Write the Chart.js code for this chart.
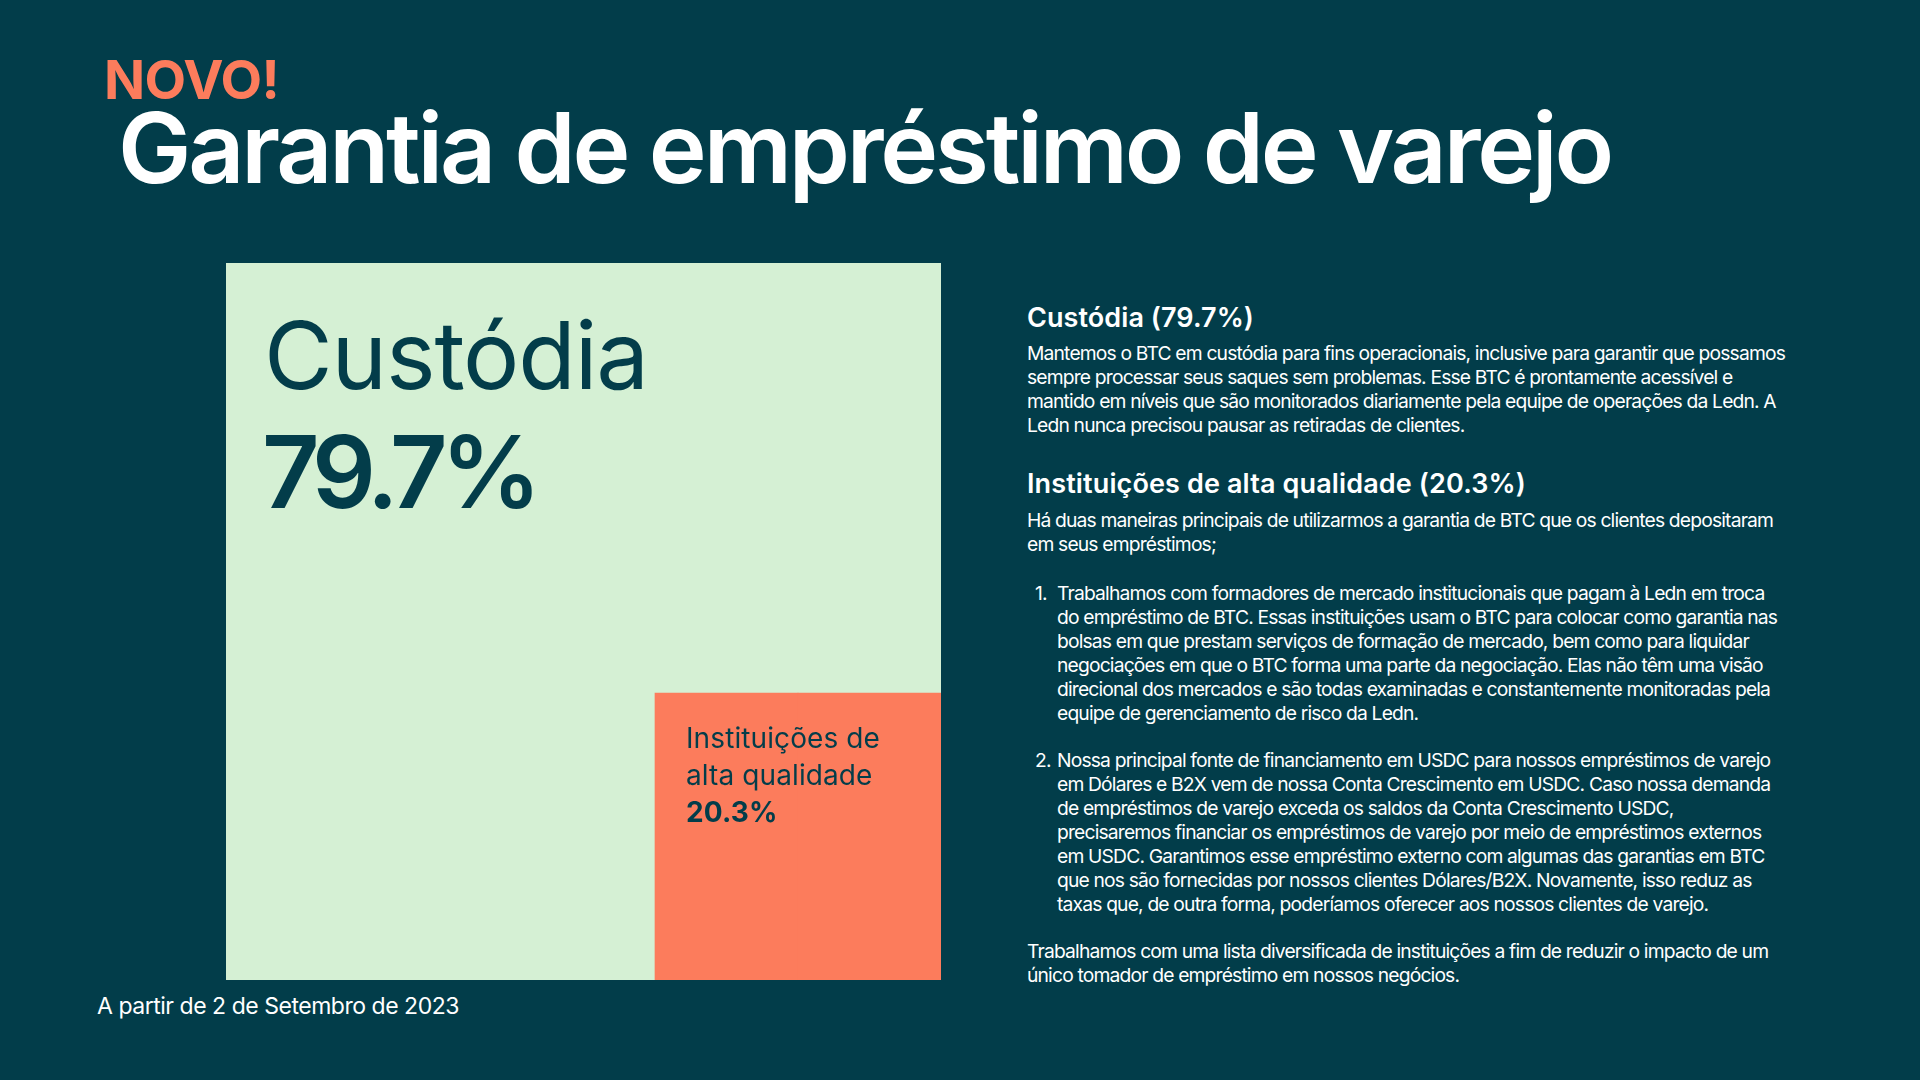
<!DOCTYPE html>
<html lang="pt">
<head>
<meta charset="utf-8">
<script src="https://cdn.jsdelivr.net/npm/chart.js@4.4.0/dist/chart.umd.min.js"></script>
<style>
  html, body { margin: 0; padding: 0; }
  body { width: 1920px; height: 1080px; background: #023d4a; position: relative; overflow: hidden;
         font-family: Inter, "Noto Sans", sans-serif; color: #ffffff; }
  .abs { position: absolute; white-space: nowrap; }
  #novo { left: 104px; top: 53px; font-size: 54px; line-height: 54px; font-weight: 700; color: #fc7c5c; }
  #title { left: 118px; top: 99px; font-size: 98px; line-height: 98px; font-weight: 600; color: #ffffff; }
  #foot { left: 97px; top: 995px; font-size: 23px; line-height: 23px; font-weight: 400; }
  .h { font-size: 27px; line-height: 27px; font-weight: 600; left: 1027px; }
  .p { font-size: 19.3px; line-height: 24px; font-weight: 400; left: 1027px; }
  .li { font-size: 19.3px; line-height: 24px; font-weight: 400; left: 1035px; }
  .li .num { position: absolute; left: 0; top: 0; }
  .li .txt { position: absolute; left: 22px; top: 0; }
  #chartBox { position: absolute; left: 226px; top: 263px; width: 715px; height: 717px; }
</style>
</head>
<body>
<div id="novo" class="abs fit" data-w="175">NOVO!</div>
<div id="title" class="abs fit" data-w="1493">Garantia de empréstimo de varejo</div>

<div id="chartBox"><canvas id="c" width="715" height="717"></canvas></div>

<div id="foot" class="abs fit" data-w="362">A partir de 2 de Setembro de 2023</div>

<div id="h1" class="abs h fit" data-w="227" style="top:304px">Custódia (79.7%)</div>
<div id="p1" class="abs p" style="top:341px">Mantemos o BTC em custódia para fins operacionais, inclusive para garantir que possamos<br>sempre processar seus saques sem problemas. Esse BTC é prontamente acessível e<br>mantido em níveis que são monitorados diariamente pela equipe de operações da Ledn. A<br>Ledn nunca precisou pausar as retiradas de clientes.</div>

<div id="h2" class="abs h fit" data-w="499" style="top:470px">Instituições de alta qualidade (20.3%)</div>
<div id="p2" class="abs p" style="top:508px">Há duas maneiras principais de utilizarmos a garantia de BTC que os clientes depositaram<br>em seus empréstimos;</div>

<div class="abs li" style="top:581px"><span class="num">1.</span><span class="txt">Trabalhamos com formadores de mercado institucionais que pagam à Ledn em troca<br>do empréstimo de BTC. Essas instituições usam o BTC para colocar como garantia nas<br>bolsas em que prestam serviços de formação de mercado, bem como para liquidar<br>negociações em que o BTC forma uma parte da negociação. Elas não têm uma visão<br>direcional dos mercados e são todas examinadas e constantemente monitoradas pela<br>equipe de gerenciamento de risco da Ledn.</span></div>

<div class="abs li" style="top:748px"><span class="num">2.</span><span class="txt">Nossa principal fonte de financiamento em USDC para nossos empréstimos de varejo<br>em Dólares e B2X vem de nossa Conta Crescimento em USDC. Caso nossa demanda<br>de empréstimos de varejo exceda os saldos da Conta Crescimento USDC,<br>precisaremos financiar os empréstimos de varejo por meio de empréstimos externos<br>em USDC. Garantimos esse empréstimo externo com algumas das garantias em BTC<br>que nos são fornecidas por nossos clientes Dólares/B2X. Novamente, isso reduz as<br>taxas que, de outra forma, poderíamos oferecer aos nossos clientes de varejo.</span></div>

<div id="p3" class="abs p" style="top:939px">Trabalhamos com uma lista diversificada de instituições a fim de reduzir o impacto de um<br>único tomador de empréstimo em nossos negócios.</div>

<script>
// ---- data ----
const categories = ['Custódia', 'Instituições de alta qualidade'];
const shares = [79.7, 20.3];
const shareLabels = ['79.7%', '20.3%'];
// treemap cells (5 equal columns of the square); values in % of column height
const cellColumns = ['c1', 'c2', 'c3', 'c4', 'c5'];
const institutionCells = [null, null, null, 40, 40];
const custodyCells = [100, 100, 100, 60, 60];
const colors = { custody: '#d5f0d4', institutions: '#fc7c5c', ink: '#033d4a' };

// ---- fit text widths via letter-spacing ----
function fitEl(el) {
  const target = parseFloat(el.dataset.w);
  el.style.letterSpacing = '0px';
  const w = el.getBoundingClientRect().width;
  const n = el.textContent.length;
  el.style.letterSpacing = ((target - w) / n) + 'px';
}
document.querySelectorAll('.fit').forEach(fitEl);
// body blocks: fit using the first line, apply to all body text
(function () {
  const probe = document.createElement('span');
  probe.style.cssText = 'position:absolute;white-space:nowrap;visibility:hidden;font-size:19.3px;font-family:Inter,"Noto Sans",sans-serif;font-weight:400';
  probe.textContent = 'Mantemos o BTC em custódia para fins operacionais, inclusive para garantir que possamos';
  document.body.appendChild(probe);
  const w = probe.getBoundingClientRect().width;
  const ls = (758 - w) / probe.textContent.length;
  document.body.removeChild(probe);
  document.querySelectorAll('.p, .li').forEach(e => e.style.letterSpacing = ls + 'px');
})();

// ---- labels plugin ----
function fitCanvasText(ctx, text, target) {
  ctx.letterSpacing = '0px';
  const w = ctx.measureText(text).width;
  return (target - w) / text.length;
}
const labelPlugin = {
  id: 'cellLabels',
  afterDatasetsDraw(chart) {
    const ctx = chart.ctx;
    const big = chart.getDatasetMeta(1).data[0];
    const small = chart.getDatasetMeta(0).data[3];
    ctx.save();
    ctx.fillStyle = colors.ink;
    ctx.textBaseline = 'alphabetic';
    ctx.textAlign = 'left';
    // Custódia block
    const bx = big.x - big.width / 2 + 38;
    const by = big.y;
    ctx.font = '400 94px Inter, "Noto Sans", sans-serif';
    ctx.letterSpacing = fitCanvasText(ctx, categories[0], 384) + 'px';
    ctx.fillText(categories[0], bx, by + 126);
    ctx.font = '600 100px Inter, "Noto Sans", sans-serif';
    ctx.letterSpacing = fitCanvasText(ctx, shareLabels[0], 273) + 'px';
    ctx.fillText(shareLabels[0], bx - 2, by + 245);
    // Institutions block
    const sx = small.x - small.width / 2 + 31;
    const sy = small.y;
    ctx.font = '400 28px Inter, "Noto Sans", sans-serif';
    const words = categories[1].split(' ');
    const l1 = words.slice(0, 2).join(' ');
    const l2 = words.slice(2).join(' ');
    const ls = fitCanvasText(ctx, l1, 194);
    ctx.letterSpacing = ls + 'px';
    ctx.fillText(l1, sx, sy + 55);
    ctx.fillText(l2, sx, sy + 92);
    ctx.font = '700 28px Inter, "Noto Sans", sans-serif';
    ctx.letterSpacing = ls + 'px';
    ctx.fillText(shareLabels[1], sx, sy + 129);
    ctx.restore();
  }
};

new Chart(document.getElementById('c'), {
  type: 'bar',
  data: {
    labels: cellColumns,
    datasets: [
      { label: categories[1], data: institutionCells, backgroundColor: colors.institutions, borderWidth: 0 },
      { label: categories[0], data: custodyCells, backgroundColor: colors.custody, borderWidth: 0 }
    ]
  },
  options: {
    responsive: false,
    animation: false,
    layout: { padding: 0 },
    datasets: { bar: { barPercentage: 1, categoryPercentage: 1 } },
    scales: {
      x: { stacked: true, display: false },
      y: { stacked: true, display: false, min: 0, max: 100 }
    },
    plugins: { legend: { display: false }, tooltip: { enabled: false } }
  },
  plugins: [labelPlugin]
});
</script>
</body>
</html>
